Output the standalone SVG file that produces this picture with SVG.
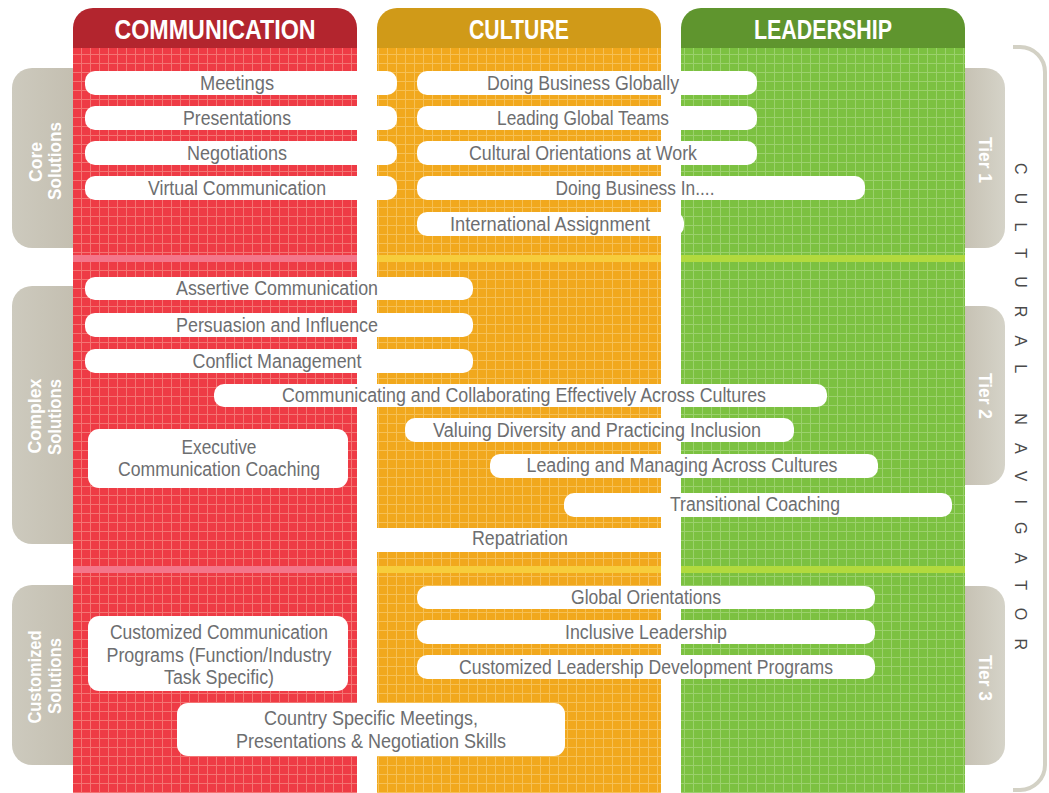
<svg xmlns="http://www.w3.org/2000/svg" width="1049" height="793" viewBox="0 0 1049 793">
<defs>
<pattern id="gridR" patternUnits="userSpaceOnUse" width="9" height="9"><rect width="9" height="9" fill="#ee3b45"/><path d="M0.5 0V9M0 0.5H9" stroke="#f47473" stroke-width="1"/></pattern>
<pattern id="gridO" patternUnits="userSpaceOnUse" width="9" height="9"><rect width="9" height="9" fill="#f1a81d"/><path d="M0.5 0V9M0 0.5H9" stroke="#f6c055" stroke-width="1"/></pattern>
<pattern id="gridG" patternUnits="userSpaceOnUse" width="9" height="9"><rect width="9" height="9" fill="#7cc141"/><path d="M0.5 0V9M0 0.5H9" stroke="#9bd16c" stroke-width="1"/></pattern>
<linearGradient id="tabL" x1="0" y1="0" x2="1" y2="0"><stop offset="0" stop-color="#cdcabe"/><stop offset="0.75" stop-color="#c4bfb1"/><stop offset="1" stop-color="#b3a893"/></linearGradient>
<linearGradient id="tabR" x1="0" y1="0" x2="1" y2="0"><stop offset="0" stop-color="#b3a893"/><stop offset="0.3" stop-color="#c6c1b3"/><stop offset="1" stop-color="#d5d3c8"/></linearGradient>
</defs>
<style>
.pill{fill:#ffffff}
.t{font-family:"Liberation Sans",Arial,sans-serif;font-size:19.5px;fill:#6d6e70;text-anchor:middle}
.hd{font-family:"Liberation Sans",Arial,sans-serif;font-size:27px;font-weight:bold;fill:#ffffff;text-anchor:middle}
.tab{font-family:"Liberation Sans",Arial,sans-serif;font-size:18px;font-weight:bold;fill:#ffffff;text-anchor:middle}
.nav{font-family:"Liberation Sans",Arial,sans-serif;font-size:16px;fill:#4a4a4a}
</style>
<rect width="1049" height="793" fill="#ffffff"/>

<g id="bracket">
<path d="M1013,47 H1020 A25,25 0 0 1 1045,72 V765 A25,25 0 0 1 1020,790 H1013" fill="none" stroke="#d3d1c5" stroke-width="4"/>
<text class="nav" transform="translate(1015,163) rotate(90)" textLength="487" lengthAdjust="spacing">CULTURAL NAVIGATOR</text>
</g>

<g id="tab-core">
<rect x="12" y="68" width="80" height="180" rx="20" fill="url(#tabL)"/>
<text class="tab" transform="translate(42,162) rotate(-90)" textLength="40" lengthAdjust="spacingAndGlyphs">Core</text>
<text class="tab" transform="translate(61,161) rotate(-90)" textLength="78" lengthAdjust="spacingAndGlyphs">Solutions</text>
</g>
<g id="tab-complex">
<rect x="12" y="286" width="80" height="258" rx="20" fill="url(#tabL)"/>
<text class="tab" transform="translate(41,416) rotate(-90)" textLength="75" lengthAdjust="spacingAndGlyphs">Complex</text>
<text class="tab" transform="translate(61,417) rotate(-90)" textLength="76" lengthAdjust="spacingAndGlyphs">Solutions</text>
</g>
<g id="tab-customized">
<rect x="12" y="585" width="80" height="180" rx="20" fill="url(#tabL)"/>
<text class="tab" transform="translate(41,677) rotate(-90)" textLength="93" lengthAdjust="spacingAndGlyphs">Customized</text>
<text class="tab" transform="translate(61,676) rotate(-90)" textLength="76" lengthAdjust="spacingAndGlyphs">Solutions</text>
</g>
<g id="tier-1">
<rect x="945" y="68" width="60" height="180" rx="20" fill="url(#tabR)"/>
<text class="tab" transform="translate(979,160) rotate(90)" textLength="46" lengthAdjust="spacingAndGlyphs">Tier 1</text>
</g>
<g id="tier-2">
<rect x="945" y="306" width="60" height="179" rx="20" fill="url(#tabR)"/>
<text class="tab" transform="translate(979,396) rotate(90)" textLength="46" lengthAdjust="spacingAndGlyphs">Tier 2</text>
</g>
<g id="tier-3">
<rect x="945" y="586" width="60" height="179" rx="20" fill="url(#tabR)"/>
<text class="tab" transform="translate(979,678) rotate(90)" textLength="46" lengthAdjust="spacingAndGlyphs">Tier 3</text>
</g>

<g id="col-communication">
<path d="M73,48 V28 A20,20 0 0 1 93,8 H337 A20,20 0 0 1 357,28 V48 Z" fill="#b3252e"/>
<rect x="73" y="48" width="284" height="745" fill="url(#gridR)"/>
<rect x="73" y="255" width="284" height="7" fill="#f4768a"/>
<rect x="73" y="566" width="284" height="7" fill="#f4768a"/>
<text class="hd" x="215" y="39" textLength="201" lengthAdjust="spacingAndGlyphs">COMMUNICATION</text>
</g>
<g id="col-culture">
<path d="M377,48 V28 A20,20 0 0 1 397,8 H641 A20,20 0 0 1 661,28 V48 Z" fill="#d09a18"/>
<rect x="377" y="48" width="284" height="745" fill="url(#gridO)"/>
<rect x="377" y="255" width="284" height="7" fill="#f7cd3c"/>
<rect x="377" y="566" width="284" height="7" fill="#f7cd3c"/>
<text class="hd" x="519" y="39" textLength="100" lengthAdjust="spacingAndGlyphs">CULTURE</text>
</g>
<g id="col-leadership">
<path d="M681,48 V28 A20,20 0 0 1 701,8 H945 A20,20 0 0 1 965,28 V48 Z" fill="#5f952e"/>
<rect x="681" y="48" width="284" height="745" fill="url(#gridG)"/>
<rect x="681" y="255" width="284" height="7" fill="#b2da3e"/>
<rect x="681" y="566" width="284" height="7" fill="#b2da3e"/>
<text class="hd" x="823" y="39" textLength="138" lengthAdjust="spacingAndGlyphs">LEADERSHIP</text>
</g>

<g id="meetings"><rect class="pill" x="85" y="71" width="312" height="24" rx="10"/><text class="t" x="237" y="90" textLength="74" lengthAdjust="spacingAndGlyphs">Meetings</text></g>
<g id="presentations"><rect class="pill" x="85" y="106" width="312" height="24" rx="10"/><text class="t" x="237" y="125" textLength="108" lengthAdjust="spacingAndGlyphs">Presentations</text></g>
<g id="negotiations"><rect class="pill" x="85" y="141" width="312" height="24" rx="10"/><text class="t" x="237" y="160" textLength="100" lengthAdjust="spacingAndGlyphs">Negotiations</text></g>
<g id="virtual-communication"><rect class="pill" x="85" y="176" width="312" height="24" rx="10"/><text class="t" x="237" y="195" textLength="178" lengthAdjust="spacingAndGlyphs">Virtual Communication</text></g>
<g id="doing-business-globally"><rect class="pill" x="417" y="71" width="340" height="24" rx="10"/><text class="t" x="583" y="90" textLength="192" lengthAdjust="spacingAndGlyphs">Doing Business Globally</text></g>
<g id="leading-global-teams"><rect class="pill" x="417" y="106" width="340" height="24" rx="10"/><text class="t" x="583" y="125" textLength="172" lengthAdjust="spacingAndGlyphs">Leading Global Teams</text></g>
<g id="cultural-orientations"><rect class="pill" x="417" y="141" width="340" height="24" rx="10"/><text class="t" x="583" y="160" textLength="228" lengthAdjust="spacingAndGlyphs">Cultural Orientations at Work</text></g>
<g id="doing-business-in"><rect class="pill" x="417" y="176" width="448" height="24" rx="10"/><text class="t" x="635" y="195" textLength="159" lengthAdjust="spacingAndGlyphs">Doing Business In....</text></g>
<g id="international-assignment"><rect class="pill" x="417" y="212" width="267" height="24" rx="10"/><text class="t" x="550" y="231" textLength="200" lengthAdjust="spacingAndGlyphs">International Assignment</text></g>

<g id="assertive-communication"><rect class="pill" x="85" y="277" width="388" height="23" rx="10"/><text class="t" x="277" y="295" textLength="202" lengthAdjust="spacingAndGlyphs">Assertive Communication</text></g>
<g id="persuasion"><rect class="pill" x="85" y="313" width="388" height="24" rx="10"/><text class="t" x="277" y="332" textLength="202" lengthAdjust="spacingAndGlyphs">Persuasion and Influence</text></g>
<g id="conflict-management"><rect class="pill" x="85" y="349" width="388" height="24" rx="10"/><text class="t" x="277" y="368" textLength="169" lengthAdjust="spacingAndGlyphs">Conflict Management</text></g>
<g id="communicating-collaborating"><rect class="pill" x="214" y="384" width="613" height="23" rx="10"/><text class="t" x="524" y="402" textLength="484" lengthAdjust="spacingAndGlyphs">Communicating and Collaborating Effectively Across Cultures</text></g>
<g id="executive-coaching"><rect class="pill" x="88" y="429" width="260" height="59" rx="11"/><text class="t" x="219" y="454" textLength="75" lengthAdjust="spacingAndGlyphs">Executive</text><text class="t" x="219" y="476" textLength="202" lengthAdjust="spacingAndGlyphs">Communication Coaching</text></g>
<g id="valuing-diversity"><rect class="pill" x="405" y="418" width="389" height="24" rx="10"/><text class="t" x="597" y="437" textLength="328" lengthAdjust="spacingAndGlyphs">Valuing Diversity and Practicing Inclusion</text></g>
<g id="leading-managing"><rect class="pill" x="490" y="454" width="388" height="24" rx="10"/><text class="t" x="682" y="472" textLength="311" lengthAdjust="spacingAndGlyphs">Leading and Managing Across Cultures</text></g>
<g id="transitional-coaching"><rect class="pill" x="564" y="493" width="388" height="24" rx="10"/><text class="t" x="755" y="511" textLength="170" lengthAdjust="spacingAndGlyphs">Transitional Coaching</text></g>
<g id="repatriation"><rect class="pill" x="377" y="528" width="284" height="24"/><text class="t" x="520" y="545" textLength="96" lengthAdjust="spacingAndGlyphs">Repatriation</text></g>

<g id="global-orientations"><rect class="pill" x="417" y="586" width="458" height="23" rx="10"/><text class="t" x="646" y="604" textLength="150" lengthAdjust="spacingAndGlyphs">Global Orientations</text></g>
<g id="inclusive-leadership"><rect class="pill" x="417" y="620" width="458" height="24" rx="10"/><text class="t" x="646" y="639" textLength="162" lengthAdjust="spacingAndGlyphs">Inclusive Leadership</text></g>
<g id="customized-leadership"><rect class="pill" x="417" y="655" width="458" height="24" rx="10"/><text class="t" x="646" y="674" textLength="374" lengthAdjust="spacingAndGlyphs">Customized Leadership Development Programs</text></g>
<g id="customized-communication"><rect class="pill" x="88" y="616" width="260" height="75" rx="11"/><text class="t" x="219" y="639" textLength="218" lengthAdjust="spacingAndGlyphs">Customized Communication</text><text class="t" x="219" y="662" textLength="225" lengthAdjust="spacingAndGlyphs">Programs (Function/Industry</text><text class="t" x="219" y="684" textLength="110" lengthAdjust="spacingAndGlyphs">Task Specific)</text></g>
<g id="country-specific"><rect class="pill" x="177" y="703" width="388" height="53" rx="11"/><text class="t" x="371" y="725" textLength="214" lengthAdjust="spacingAndGlyphs">Country Specific Meetings,</text><text class="t" x="371" y="748" textLength="270" lengthAdjust="spacingAndGlyphs">Presentations &amp; Negotiation Skills</text></g>
</svg>
